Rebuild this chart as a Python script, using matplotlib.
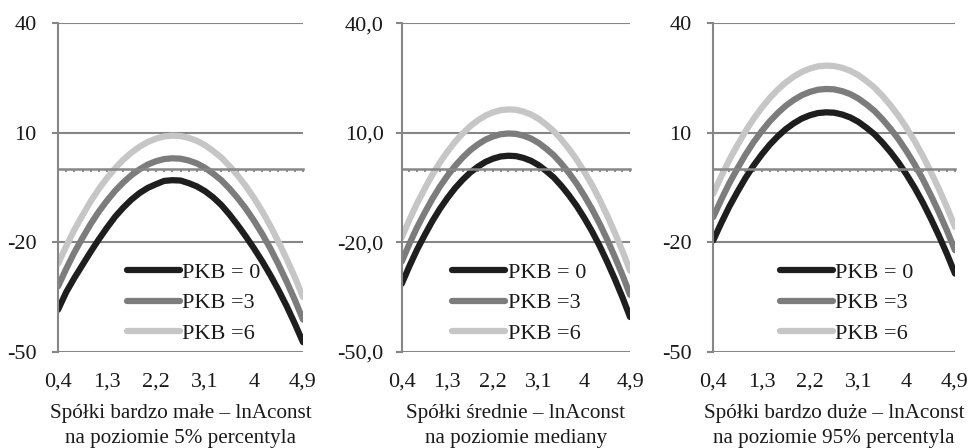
import matplotlib

matplotlib.use("Agg")
import matplotlib.pyplot as plt

# --- data (three panels, PKB = 0 / 3 / 6) ---
X_VALUES = [0.4, 0.55, 0.7, 0.85, 1.0, 1.15, 1.3, 1.45, 1.6, 1.75, 1.9,
            2.05, 2.2, 2.35, 2.5, 2.65, 2.8, 2.95, 3.1, 3.25, 3.4, 3.55,
            3.7, 3.85, 4.0, 4.15, 4.3, 4.45, 4.6, 4.75, 4.9]
X_TICK_LABELS = ["0,4", "1,3", "2,2", "3,1", "4", "4,9"]
Y_TICKS = [40, 10, -20, -50]
Y_LABELS_INT = ["40", "10", "-20", "-50"]
Y_LABELS_DEC = ["40,0", "10,0", "-20,0", "-50,0"]
SERIES_NAMES = ["PKB = 0", "PKB =3", "PKB =6"]

small_pkb0 = [-38.5, -33.7, -29.8, -26.2, -22.6, -19.2, -16.0, -13.0, -10.5, -8.3, -6.5,
              -5.1, -4.1, -3.2, -3.0, -3.1, -3.8, -4.7, -6.0, -7.7, -9.8, -12.4,
              -15.3, -18.4, -21.7, -25.2, -29.0, -33.1, -37.5, -42.3, -47.4]
small_pkb3 = [-32.1, -27.3, -22.8, -18.8, -15.0, -11.6, -8.6, -5.9, -3.6, -1.6, 0.0,
              1.3, 2.2, 2.8, 3.0, 2.9, 2.4, 1.6, 0.4, -1.2, -3.0, -5.3,
              -7.9, -10.8, -14.1, -17.7, -21.7, -26.1, -30.8, -35.8, -41.2]
small_pkb6 = [-25.9, -21.1, -16.6, -12.6, -8.8, -5.4, -2.4, 0.3, 2.6, 4.6, 6.2,
              7.5, 8.4, 9.0, 9.2, 9.1, 8.6, 7.8, 6.6, 5.0, 3.2, 0.9,
              -1.7, -4.6, -7.9, -11.5, -15.5, -19.9, -24.6, -29.6, -35.0]

mid_pkb0 = [-31.4, -26.6, -22.1, -18.1, -14.3, -10.9, -7.9, -5.2, -2.9, -0.9, 0.7,
            2.0, 2.9, 3.5, 3.7, 3.6, 3.1, 2.3, 1.1, -0.5, -2.3, -4.6,
            -7.2, -10.1, -13.4, -17.0, -21.0, -25.4, -30.1, -35.1, -40.5]
mid_pkb3 = [-25.3, -20.5, -16.0, -12.0, -8.2, -4.8, -1.8, 0.9, 3.2, 5.2, 6.8,
            8.1, 9.0, 9.6, 9.8, 9.7, 9.2, 8.4, 7.2, 5.6, 3.8, 1.5,
            -1.1, -4.0, -7.3, -10.9, -14.9, -19.3, -24.0, -29.0, -34.4]
mid_pkb6 = [-18.7, -13.9, -9.4, -5.4, -1.6, 1.8, 4.8, 7.5, 9.8, 11.8, 13.4,
            14.7, 15.6, 16.2, 16.4, 16.3, 15.8, 15.0, 13.8, 12.2, 10.4, 8.1,
            5.5, 2.6, -0.7, -4.3, -8.3, -12.7, -17.4, -22.4, -27.8]

large_pkb0 = [-19.5, -14.7, -10.2, -6.2, -2.4, 1.0, 4.0, 6.7, 9.0, 11.0, 12.6,
              13.9, 14.8, 15.4, 15.6, 15.5, 15.0, 14.2, 13.0, 11.4, 9.6, 7.3,
              4.7, 1.8, -1.5, -5.1, -9.1, -13.5, -18.2, -23.2, -28.6]
large_pkb3 = [-13.1, -8.3, -3.8, 0.2, 4.0, 7.4, 10.4, 13.1, 15.4, 17.4, 19.0,
              20.3, 21.2, 21.8, 22.0, 21.9, 21.4, 20.6, 19.4, 17.8, 16.0, 13.7,
              11.1, 8.2, 4.9, 1.3, -2.7, -7.1, -11.8, -16.8, -22.2]
large_pkb6 = [-6.7, -1.9, 2.6, 6.6, 10.4, 13.8, 16.8, 19.5, 21.8, 23.8, 25.4,
              26.7, 27.6, 28.2, 28.4, 28.3, 27.8, 27.0, 25.8, 24.2, 22.4, 20.1,
              17.5, 14.6, 11.3, 7.7, 3.7, -0.7, -5.4, -10.4, -15.8]

PANEL_TITLES = [
    "Spółki bardzo małe – lnAconst\nna poziomie 5% percentyla",
    "Spółki średnie – lnAconst\nna poziomie mediany",
    "Spółki bardzo duże – lnAconst\nna poziomie 95% percentyla",
]

# --- style ---
COLORS = ["#1e1e1e", "#7c7c7c", "#c6c6c6"]
GRID_COLOR = "#868686"
TEXT_COLOR = "#1a1a1a"
FONT_SIZE = 16
TITLE_SIZE = 15.2
plt.rcParams["font.family"] = ["Liberation Serif", "DejaVu Serif"]

# axes rectangles in figure fractions: left, bottom, width, height
PANEL_RECTS = [
    (0.0597, 0.215, 0.252, 0.733),
    (0.4133, 0.215, 0.2349, 0.733),
    (0.7338, 0.215, 0.2487, 0.733),
]
LEGEND_X = [0.28, 0.22, 0.275]
Y_LABEL_PAD = [11, 8.5, 11]


def draw_panel(fig, rect, series, ylabels, title, legend_x, ypad):
    ax = fig.add_axes(rect)
    for values, color, name in zip(series, COLORS, SERIES_NAMES):
        ax.plot(X_VALUES, values, color=color, linewidth=4.5,
                solid_capstyle="round", solid_joinstyle="round", label=name)

    ax.set_xlim(X_VALUES[0], X_VALUES[-1])
    ax.set_ylim(Y_TICKS[-1], Y_TICKS[0])
    ax.set_yticks(Y_TICKS)
    ax.set_yticklabels(ylabels)
    ax.grid(axis="y", color=GRID_COLOR, linewidth=1.5)
    ax.set_axisbelow(True)

    for side in ("top", "right"):
        ax.spines[side].set_visible(False)
    ax.spines["left"].set_color(GRID_COLOR)
    ax.spines["left"].set_linewidth(1.5)
    ax.tick_params(axis="y", direction="out", length=4.5, width=1.5,
                   color=GRID_COLOR, labelsize=FONT_SIZE, labelcolor=TEXT_COLOR,
                   pad=ypad)

    # category axis crosses at zero, ticks at every category
    ax.spines["bottom"].set_position(("data", 0))
    ax.spines["bottom"].set_color(GRID_COLOR)
    ax.spines["bottom"].set_linewidth(1.8)
    ax.set_xticks(X_VALUES)
    ax.tick_params(axis="x", direction="out", length=2.5, width=1.3,
                   color=GRID_COLOR, labelbottom=False)

    # labels sit low, under the -50 gridline
    sec = ax.secondary_xaxis("bottom")
    sec.set_xticks(X_VALUES[::6])
    sec.set_xticklabels(X_TICK_LABELS)
    sec.tick_params(length=0, pad=15, labelsize=FONT_SIZE, labelcolor=TEXT_COLOR)
    sec.spines["bottom"].set_visible(False)
    sec.set_xlabel(title, fontsize=TITLE_SIZE, color=TEXT_COLOR,
                   labelpad=9, linespacing=1.4)

    ax.legend(loc="upper left", bbox_to_anchor=(legend_x, 0.272), frameon=False,
              fontsize=FONT_SIZE, handlelength=2.4, handletextpad=0.1,
              labelspacing=0.45, borderpad=0, borderaxespad=0,
              labelcolor=TEXT_COLOR)
    return ax


def main() -> None:
    fig = plt.figure(figsize=(9.72, 4.48), dpi=100)
    panels = [
        ([small_pkb0, small_pkb3, small_pkb6], Y_LABELS_INT),
        ([mid_pkb0, mid_pkb3, mid_pkb6], Y_LABELS_DEC),
        ([large_pkb0, large_pkb3, large_pkb6], Y_LABELS_INT),
    ]
    for (series, ylabels), rect, title, lx, ypad in zip(
        panels, PANEL_RECTS, PANEL_TITLES, LEGEND_X, Y_LABEL_PAD
    ):
        draw_panel(fig, rect, series, ylabels, title, lx, ypad)

    fig.savefig("out.png", dpi=100, facecolor="white")
    plt.close(fig)


if __name__ == "__main__":
    main()
